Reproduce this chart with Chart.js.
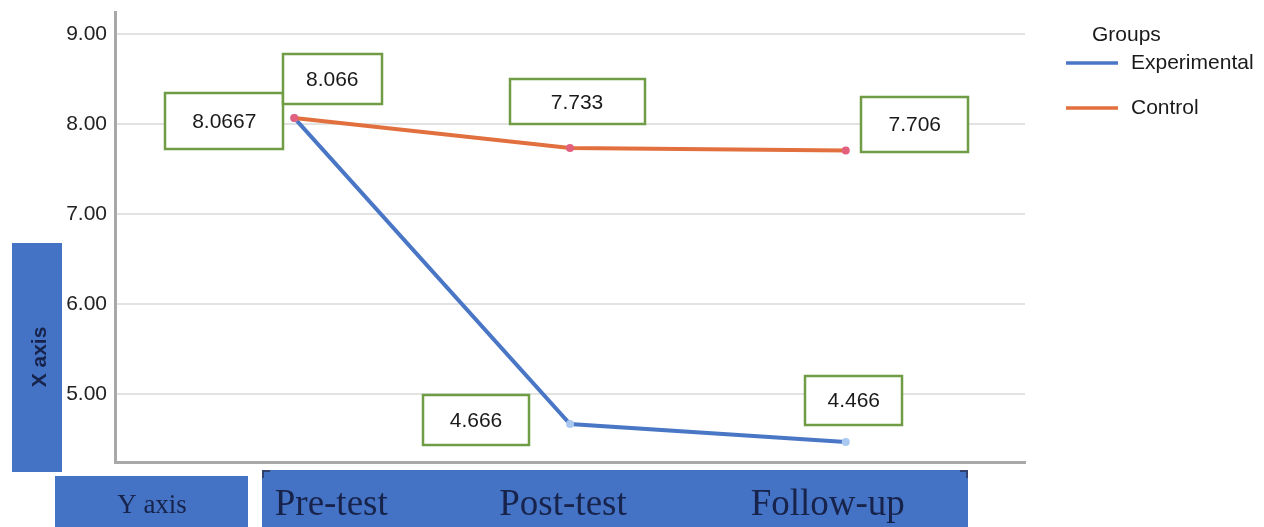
<!DOCTYPE html>
<html>
<head>
<meta charset="utf-8">
<script src="https://cdn.jsdelivr.net/npm/chart.js@4/dist/chart.umd.min.js"></script>
<style>
  html, body { margin: 0; padding: 0; background: #ffffff; }
  #wrap { width: 1264px; height: 527px; position: relative; }
</style>
</head>
<body>
<div id="wrap"><canvas id="chart" width="1264" height="527"></canvas></div>
<script>
// Mean scores per measurement occasion
const categories = ['Pre-test', 'Post-test', 'Follow-up'];
const groupNames = ['Experimental', 'Control'];
const experimental = [8.0667, 4.666, 4.466];
const control = [8.066, 7.733, 7.706];
const yTicks = [5, 6, 7, 8, 9];

const BLUE = '#4a76c6';
const ORANGE = '#e2703e';
const BOX_BLUE = '#4472c4';
const NAVY = '#17234a';
const GREEN = '#6f9c45';
const SANS = '"Liberation Sans", Arial, Helvetica, sans-serif';
const SERIF = '"Liberation Serif", "Times New Roman", serif';

// Value call-outs: which dataset/point, offset of box centre from the point, box size
const callouts = [
  { ds: 0, i: 0, dx: -70, dy: 3,   w: 118, h: 56 },
  { ds: 1, i: 0, dx: 38,  dy: -39, w: 99,  h: 50 },
  { ds: 1, i: 1, dx: 7,   dy: -46, w: 135, h: 45 },
  { ds: 1, i: 2, dx: 69,  dy: -26, w: 107, h: 55 },
  { ds: 0, i: 1, dx: -94, dy: -4,  w: 106, h: 50 },
  { ds: 0, i: 2, dx: 8,   dy: -42, w: 97,  h: 49 }
];

const overlayPlugin = {
  id: 'overlay',
  afterDatasetsDraw(chart) {
    const ctx = chart.ctx;
    // green call-out boxes with the value of each point
    ctx.save();
    callouts.forEach(c => {
      const meta = chart.getDatasetMeta(c.ds);
      const pt = meta.data[c.i];
      const cx = pt.x + c.dx, cy = pt.y + c.dy;
      const x0 = Math.round(cx - c.w / 2), y0 = Math.round(cy - c.h / 2);
      ctx.fillStyle = '#ffffff';
      ctx.fillRect(x0, y0, c.w, c.h);
      ctx.strokeStyle = GREEN;
      ctx.lineWidth = 2.5;
      ctx.strokeRect(x0, y0, c.w, c.h);
      ctx.fillStyle = '#1a1a1a';
      ctx.font = '21px ' + SANS;
      ctx.textAlign = 'center';
      ctx.textBaseline = 'middle';
      const v = chart.data.datasets[c.ds].data[c.i].y;
      ctx.fillText(String(v), cx, cy + 1);
    });
    ctx.restore();
  },
  afterDraw(chart) {
    const ctx = chart.ctx;
    const xs = chart.scales.x;
    ctx.save();

    // legend
    ctx.font = '21px ' + SANS;
    ctx.textBaseline = 'middle';
    ctx.textAlign = 'left';
    ctx.fillStyle = '#1a1a1a';
    ctx.fillText('Groups', 1092, 35);
    chart.data.datasets.forEach((ds, k) => {
      const y = 63 + k * 45;
      ctx.strokeStyle = ds.borderColor;
      ctx.lineWidth = 3.5;
      ctx.beginPath();
      ctx.moveTo(1066, y);
      ctx.lineTo(1118, y);
      ctx.stroke();
      ctx.fillStyle = '#1a1a1a';
      ctx.fillText(ds.label, 1131, y);
    });

    // vertical axis caption box
    ctx.fillStyle = BOX_BLUE;
    ctx.fillRect(12, 243, 50, 229);
    ctx.save();
    ctx.translate(40, 357);
    ctx.rotate(-Math.PI / 2);
    ctx.fillStyle = NAVY;
    ctx.font = 'bold 21px ' + SANS;
    ctx.textAlign = 'center';
    ctx.textBaseline = 'middle';
    ctx.fillText('X axis', 0, 0);
    ctx.restore();

    // horizontal axis caption box
    ctx.fillStyle = BOX_BLUE;
    ctx.fillRect(55, 476, 193, 51);
    ctx.fillStyle = NAVY;
    ctx.font = '27px ' + SERIF;
    ctx.textAlign = 'center';
    ctx.textBaseline = 'alphabetic';
    ctx.fillText('Y axis', 152, 513);

    // category label band
    ctx.fillStyle = BOX_BLUE;
    ctx.fillRect(262, 470, 706, 57);
    ctx.strokeStyle = '#2a3350';
    ctx.lineWidth = 1.5;
    ctx.beginPath();
    ctx.moveTo(263, 478); ctx.lineTo(263, 471); ctx.lineTo(270, 471);
    ctx.moveTo(960, 471); ctx.lineTo(967, 471); ctx.lineTo(967, 478);
    ctx.stroke();
    const shift = [37, -7, -18];
    ctx.fillStyle = NAVY;
    ctx.font = '37px ' + SERIF;
    categories.forEach((c, i) => {
      ctx.fillText(c, xs.getPixelForValue(i) + shift[i], 515);
    });
    ctx.restore();
  }
};

new Chart(document.getElementById('chart'), {
  type: 'line',
  data: {
    datasets: [
      {
        label: groupNames[0],
        data: experimental.map((v, i) => ({ x: i, y: v })),
        borderColor: BLUE,
        backgroundColor: BLUE,
        borderWidth: 4,
        pointRadius: 4,
        pointBorderWidth: 0,
        pointBackgroundColor: '#a9c8f0',
        order: 2
      },
      {
        label: groupNames[1],
        data: control.map((v, i) => ({ x: i, y: v })),
        borderColor: ORANGE,
        backgroundColor: ORANGE,
        borderWidth: 4,
        pointRadius: 4,
        pointBorderWidth: 0,
        pointBackgroundColor: '#e2607e',
        order: 1
      }
    ]
  },
  options: {
    responsive: false,
    animation: false,
    layout: { padding: { top: 12, right: 239, left: 0, bottom: 0 } },
    plugins: { legend: { display: false }, tooltip: { enabled: false } },
    scales: {
      x: {
        type: 'linear',
        min: -0.65,
        max: 2.65,
        ticks: { display: false },
        grid: { display: false, drawTicks: false },
        border: { display: true, color: '#a8a8a8', width: 3 },
        afterFit(s) { s.height = 65; s.paddingLeft = 0; s.paddingRight = 0; }
      },
      y: {
        min: 4.244,
        max: 9.244,
        afterBuildTicks(s) { s.ticks = yTicks.map(v => ({ value: v })); },
        ticks: {
          color: '#222',
          font: { family: SANS, size: 21 },
          padding: 8,
          callback: v => Number(v).toFixed(2)
        },
        grid: { color: '#e2e2e2', lineWidth: 2, drawTicks: false },
        border: { display: true, color: '#a8a8a8', width: 3 },
        afterFit(s) { s.width = 115; s.paddingTop = 0; s.paddingBottom = 0; }
      }
    }
  },
  plugins: [overlayPlugin]
});
</script>
</body>
</html>
